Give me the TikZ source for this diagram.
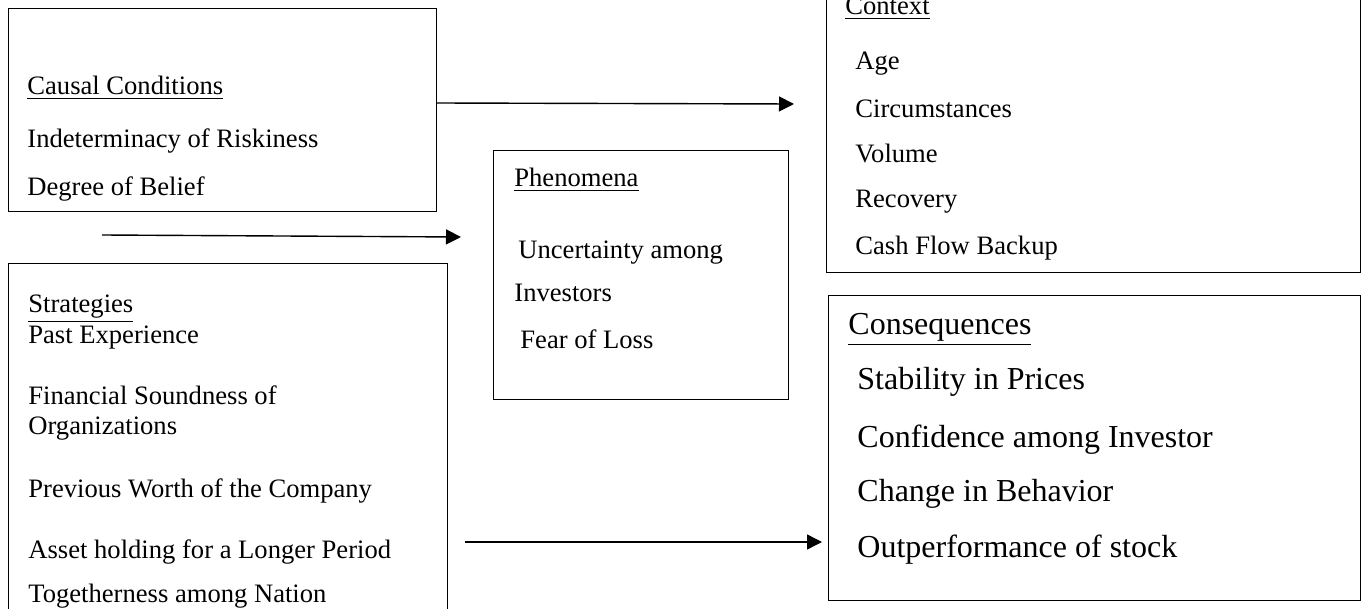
\documentclass[tikz,border=0pt]{standalone}
\usepackage{fontspec}
\setmainfont{Liberation Serif}
\usetikzlibrary{arrows.meta}
\tikzset{
  box/.style={draw, line width=0.6pt, inner sep=0pt, anchor=north west},
  txt/.style={anchor=base west, inner sep=0pt, font=\fontsize{13.3}{16}\selectfont},
  big/.style={anchor=base west, inner sep=0pt, font=\fontsize{16}{19}\selectfont},
  arr/.style={-{Triangle[length=7.5pt,width=7.5pt]}, line width=0.7pt}
}
\begin{document}
\begin{tikzpicture}[x=0.5pt,y=-0.5pt]
\useasboundingbox (0,0) rectangle (1361,609);
\clip (0,0) rectangle (1361,609);

\node[box, minimum width=214pt, minimum height=101.5pt] (causal) at (8,8) {};
\node[box, minimum width=267pt, minimum height=141pt] (context) at (826,-10) {};
\node[box, minimum width=147.5pt, minimum height=124.5pt] (phen) at (493,150) {};
\node[box, minimum width=219.5pt, minimum height=183.5pt] (strat) at (8,263) {};
\node[box, minimum width=266pt, minimum height=152.5pt] (conseq) at (828,295) {};

\node[txt] (causalhead) at (27,95) {\underline{Causal Conditions}};
\node[txt] (causal1) at (27,148) {Indeterminacy of Riskiness};
\node[txt] (causal2) at (27,196) {Degree of Belief};

\node[txt] (contexthead) at (845,15) {\underline{Context}};
\node[txt] (context1) at (855,70) {Age};
\node[txt] (context2) at (855,118) {Circumstances};
\node[txt] (context3) at (855,163) {Volume};
\node[txt] (context4) at (855,208) {Recovery};
\node[txt] (context5) at (855,255) {Cash Flow Backup};

\node[txt] (phenhead) at (514,187) {\underline{Phenomena}};
\node[txt] (phen1) at (518,259) {Uncertainty among};
\node[txt] (phen2) at (514,302) {Investors};
\node[txt] (phen3) at (520,349) {Fear of Loss};

\node[txt] (strathead) at (28,313) {\underline{Strategies}};
\node[txt] (strat1) at (28,344) {Past Experience};
\node[txt] (strat2) at (28,405) {Financial Soundness of};
\node[txt] (strat3) at (28,435) {Organizations};
\node[txt] (strat4) at (28,497) {Previous Worth of the Company};
\node[txt] (strat5) at (28,558) {Asset holding for a Longer Period};
\node[txt] (strat6) at (28,602) {Togetherness among Nation};

\node[big] (conseqhead) at (848,335) {\underline{Consequences}};
\node[big] (conseq1) at (857,390) {Stability in Prices};
\node[big] (conseq2) at (857,447) {Confidence among Investor};
\node[big] (conseq3) at (857,501) {Change in Behavior};
\node[big] (conseq4) at (857,557) {Outperformance of stock};

\coordinate (causalout) at (436,103);
\coordinate (contextin) at (794,104);
\coordinate (midstart) at (102,235);
\coordinate (phenin) at (461,237);
\coordinate (stratout) at (465,542);
\coordinate (conseqin) at (822,542);

\draw[arr] (causalout) -- (contextin);
\draw[arr] (midstart) -- (phenin);
\draw[arr] (stratout) -- (conseqin);
\end{tikzpicture}
\end{document}
